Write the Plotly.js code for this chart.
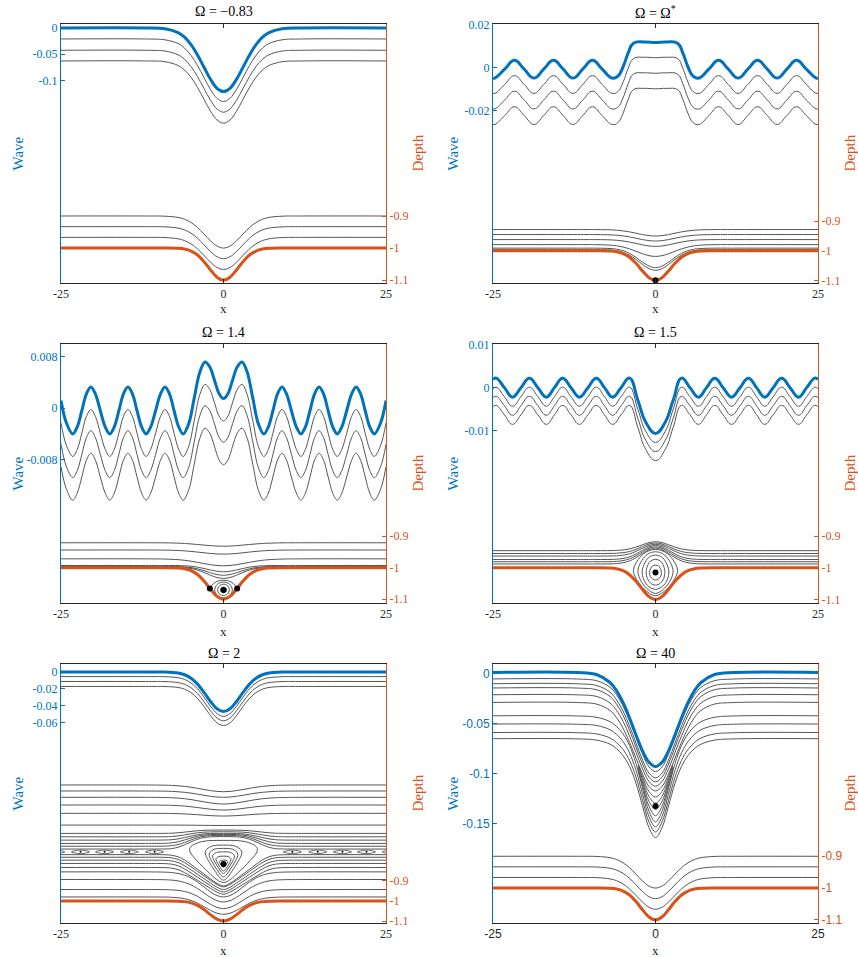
<!DOCTYPE html>
<html><head><meta charset="utf-8">
<script src="https://cdn.plot.ly/plotly-3.0.1.min.js"></script>
<style>html,body{margin:0;padding:0;background:#fff}</style>
</head><body><div id="chart" style="width:858px;height:957px"></div>
<script>
// ---------------- data ----------------
const TITLES = ['Ω = −0.83','Ω = Ω<sup>*</sup>','Ω = 1.4','Ω = 1.5','Ω = 2','Ω = 40'];
const X_TICKS = [-25,0,25];
const X_TICK_TEXT = ['-25','0','25'];
const DEPTH_TICKS = [-0.9,-1,-1.1];
const DEPTH_TICK_TEXT = ['-0.9','-1','-1.1'];

// shared x samples for the smooth single-dip profiles
const XS = [-25,-12,-9,-7,-6,-5,-4,-3,-2,-1,0,1,2,3,4,5,6,7,9,12,25];
// bottom (bed) profile, same in every panel
const BED = [-1,-1,-1,-1.0009,-1.0032,-1.0093,-1.0218,-1.0424,-1.0683,-1.0909,-1.1,-1.0909,-1.0683,-1.0424,-1.0218,-1.0093,-1.0032,-1.0009,-1,-1,-1];
const BED_LINE1 = [-0.9,-0.9,-0.9006,-0.9044,-0.91,-0.9203,-0.936,-0.9563,-0.9775,-0.9938,-1,-0.9938,-0.9775,-0.9563,-0.936,-0.9203,-0.91,-0.9044,-0.9006,-0.9,-0.9];
const BED_LINE2 = [-0.9333,-0.9333,-0.9339,-0.9377,-0.9433,-0.9536,-0.9693,-0.9896,-1.0108,-1.0271,-1.0333,-1.0271,-1.0108,-0.9896,-0.9693,-0.9536,-0.9433,-0.9377,-0.9339,-0.9333,-0.9333];
const BED_LINE3 = [-0.9667,-0.9667,-0.9673,-0.9711,-0.9767,-0.987,-1.0027,-1.023,-1.0442,-1.0605,-1.0667,-1.0605,-1.0442,-1.023,-1.0027,-0.987,-0.9767,-0.9711,-0.9673,-0.9667,-0.9667];

// Panel 1: Omega = -0.83
const P1_WAVE = [0,0,-0.0016,-0.0088,-0.0176,-0.0319,-0.0516,-0.075,-0.0981,-0.1153,-0.1216,-0.1153,-0.0981,-0.075,-0.0516,-0.0319,-0.0176,-0.0088,-0.0016,0,0];
const P1_S1 = [-0.021,-0.021,-0.0226,-0.0296,-0.0383,-0.0523,-0.0717,-0.0948,-0.1175,-0.1344,-0.1406,-0.1344,-0.1175,-0.0948,-0.0717,-0.0523,-0.0383,-0.0296,-0.0226,-0.021,-0.021];
const P1_S2 = [-0.0426,-0.0426,-0.0441,-0.0511,-0.0598,-0.0736,-0.0928,-0.1157,-0.1381,-0.1548,-0.161,-0.1548,-0.1381,-0.1157,-0.0928,-0.0736,-0.0598,-0.0511,-0.0441,-0.0426,-0.0426];
const P1_S3 = [-0.063,-0.063,-0.0645,-0.0716,-0.0803,-0.0942,-0.1135,-0.1364,-0.159,-0.1758,-0.182,-0.1758,-0.159,-0.1364,-0.1135,-0.0942,-0.0803,-0.0716,-0.0645,-0.063,-0.063];

// Panel 2: Omega = Omega*
const P2_X = [-25,-24.7,-23.2,-21.7,-20.2,-18.7,-17.2,-15.7,-14.2,-12.7,-11.2,-9.7,-8.2,-6.7,-5.8,-5,-4.2,-3.4,-1.7,0,1.7,3.4,4.2,5,5.8,6.7,8.2,9.7,11.2,12.7,14.2,15.7,17.2,18.7,20.2,21.7,23.2,24.7,25];
const P2_WAVE = [-0.0047,-0.0048,-0.0007,0.0034,-0.0007,-0.0048,-0.0007,0.0034,-0.0007,-0.0048,-0.0007,0.0034,-0.0007,-0.0048,-0.004,0.0003,0.0068,0.0113,0.0119,0.0117,0.0119,0.0113,0.0068,0.0003,-0.004,-0.0048,-0.0007,0.0034,-0.0007,-0.0048,-0.0007,0.0034,-0.0007,-0.0048,-0.0007,0.0034,-0.0007,-0.0048,-0.0047];
const P2_S1 = [-0.0118,-0.0119,-0.0078,-0.0037,-0.0078,-0.0119,-0.0078,-0.0037,-0.0078,-0.0119,-0.0078,-0.0037,-0.0078,-0.0119,-0.0111,-0.0068,-0.0003,0.0042,0.0048,0.0046,0.0048,0.0042,-0.0003,-0.0068,-0.0111,-0.0119,-0.0078,-0.0037,-0.0078,-0.0119,-0.0078,-0.0037,-0.0078,-0.0119,-0.0078,-0.0037,-0.0078,-0.0119,-0.0118];
const P2_S2 = [-0.019,-0.0191,-0.015,-0.0109,-0.015,-0.0191,-0.015,-0.0109,-0.015,-0.0191,-0.015,-0.0109,-0.015,-0.0191,-0.0183,-0.014,-0.0075,-0.003,-0.0024,-0.0026,-0.0024,-0.003,-0.0075,-0.014,-0.0183,-0.0191,-0.015,-0.0109,-0.015,-0.0191,-0.015,-0.0109,-0.015,-0.0191,-0.015,-0.0109,-0.015,-0.0191,-0.019];
const P2_S3 = [-0.0262,-0.0263,-0.0222,-0.0181,-0.0222,-0.0263,-0.0222,-0.0181,-0.0222,-0.0263,-0.0222,-0.0181,-0.0222,-0.0263,-0.0255,-0.0212,-0.0147,-0.0102,-0.0096,-0.0098,-0.0096,-0.0102,-0.0147,-0.0212,-0.0255,-0.0263,-0.0222,-0.0181,-0.0222,-0.0263,-0.0222,-0.0181,-0.0222,-0.0263,-0.0222,-0.0181,-0.0222,-0.0263,-0.0262];
const P2_D1 = [-0.928,-0.928,-0.9281,-0.929,-0.9302,-0.9325,-0.9359,-0.9404,-0.9451,-0.9486,-0.95,-0.9486,-0.9451,-0.9404,-0.9359,-0.9325,-0.9302,-0.929,-0.9281,-0.928,-0.928];
const P2_D2 = [-0.945,-0.945,-0.9451,-0.946,-0.9472,-0.9495,-0.9529,-0.9574,-0.9621,-0.9656,-0.967,-0.9656,-0.9621,-0.9574,-0.9529,-0.9495,-0.9472,-0.946,-0.9451,-0.945,-0.945];
const P2_D3 = [-0.962,-0.962,-0.9621,-0.963,-0.9643,-0.9667,-0.9703,-0.975,-0.9798,-0.9836,-0.985,-0.9836,-0.9798,-0.975,-0.9703,-0.9667,-0.9643,-0.963,-0.9621,-0.962,-0.962];
const P2_D4 = [-0.979,-0.979,-0.9792,-0.9808,-0.983,-0.9871,-0.9934,-1.0015,-1.01,-1.0165,-1.019,-1.0165,-1.01,-1.0015,-0.9934,-0.9871,-0.983,-0.9808,-0.9792,-0.979,-0.979];
const P2_D5 = [-0.991,-0.991,-0.9911,-0.9922,-0.9944,-0.9994,-1.0086,-1.0224,-1.0385,-1.0518,-1.057,-1.0518,-1.0385,-1.0224,-1.0086,-0.9994,-0.9944,-0.9922,-0.9911,-0.991,-0.991];
const P2_D6 = [-0.996,-0.996,-0.9961,-0.9972,-0.9996,-1.0049,-1.0147,-1.0293,-1.0463,-1.0605,-1.066,-1.0605,-1.0463,-1.0293,-1.0147,-1.0049,-0.9996,-0.9972,-0.9961,-0.996,-0.996];
const P2_DOT_X = [0];
const P2_DOT_Y = [-1.1];

// Panel 3: Omega = 1.4
const P3_X = [-25,-24.2,-23.2,-22.5,-21.8,-21.1,-20.4,-19.7,-18.95,-18.2,-17.5,-16.8,-16.1,-15.4,-14.7,-14,-13.3,-12.6,-11.9,-11.2,-10.45,-9.7,-9,-8.3,-7.6,-6.9,-6.2,-5.35,-4.5,-3.65,-2.85,-2.1,-1.4,-0.7,0,
  0.7,1.4,2.1,2.85,3.65,4.5,5.35,6.2,6.9,7.6,8.3,9,9.7,10.45,11.2,11.9,12.6,13.3,14,14.7,15.4,16.1,16.8,17.5,18.2,18.95,19.7,20.4,21.1,21.8,22.5,23.2,24.2,25];
const P3_WAVE = [0.0012,-0.0022,-0.004,-0.0029,-0.0004,0.0022,0.0033,0.0022,-0.0004,-0.0029,-0.004,-0.0029,-0.0004,0.0022,0.0033,0.0022,-0.0004,-0.0029,-0.004,-0.0029,-0.0004,0.0022,0.0033,0.0022,-0.0004,-0.0029,-0.004,-0.0024,0.0016,0.0056,0.0072,0.0064,0.0044,0.0023,0.0015,
  0.0023,0.0044,0.0064,0.0072,0.0056,0.0016,-0.0024,-0.004,-0.0029,-0.0004,0.0022,0.0033,0.0022,-0.0004,-0.0029,-0.004,-0.0029,-0.0004,0.0022,0.0033,0.0022,-0.0004,-0.0029,-0.004,-0.0029,-0.0004,0.0022,0.0033,0.0022,-0.0004,-0.0029,-0.004,-0.0022,0.0012];
const P3_S1 = [-0.0023,-0.0057,-0.0075,-0.0064,-0.0039,-0.0013,-0.0002,-0.0013,-0.0039,-0.0064,-0.0075,-0.0064,-0.0039,-0.0013,-0.0002,-0.0013,-0.0039,-0.0064,-0.0075,-0.0064,-0.0039,-0.0013,-0.0002,-0.0013,-0.0039,-0.0064,-0.0075,-0.0059,-0.0019,0.0021,0.0037,0.0029,0.0009,-0.0012,-0.002,
  -0.0012,0.0009,0.0029,0.0037,0.0021,-0.0019,-0.0059,-0.0075,-0.0064,-0.0039,-0.0013,-0.0002,-0.0013,-0.0039,-0.0064,-0.0075,-0.0064,-0.0039,-0.0013,-0.0002,-0.0013,-0.0039,-0.0064,-0.0075,-0.0064,-0.0039,-0.0013,-0.0002,-0.0013,-0.0039,-0.0064,-0.0075,-0.0057,-0.0023];
const P3_S2 = [-0.0056,-0.009,-0.0108,-0.0097,-0.0072,-0.0046,-0.0035,-0.0046,-0.0072,-0.0097,-0.0108,-0.0097,-0.0072,-0.0046,-0.0035,-0.0046,-0.0072,-0.0097,-0.0108,-0.0097,-0.0072,-0.0046,-0.0035,-0.0046,-0.0072,-0.0097,-0.0108,-0.0092,-0.0052,-0.0012,0.0004,-0.0004,-0.0024,-0.0045,-0.0053,
  -0.0045,-0.0024,-0.0004,0.0004,-0.0012,-0.0052,-0.0092,-0.0108,-0.0097,-0.0072,-0.0046,-0.0035,-0.0046,-0.0072,-0.0097,-0.0108,-0.0097,-0.0072,-0.0046,-0.0035,-0.0046,-0.0072,-0.0097,-0.0108,-0.0097,-0.0072,-0.0046,-0.0035,-0.0046,-0.0072,-0.0097,-0.0108,-0.009,-0.0056];
const P3_S3 = [-0.0091,-0.0125,-0.0143,-0.0132,-0.0107,-0.0081,-0.007,-0.0081,-0.0107,-0.0132,-0.0143,-0.0132,-0.0107,-0.0081,-0.007,-0.0081,-0.0107,-0.0132,-0.0143,-0.0132,-0.0107,-0.0081,-0.007,-0.0081,-0.0107,-0.0132,-0.0143,-0.0127,-0.0087,-0.0047,-0.0031,-0.0039,-0.0059,-0.008,-0.0088,
  -0.008,-0.0059,-0.0039,-0.0031,-0.0047,-0.0087,-0.0127,-0.0143,-0.0132,-0.0107,-0.0081,-0.007,-0.0081,-0.0107,-0.0132,-0.0143,-0.0132,-0.0107,-0.0081,-0.007,-0.0081,-0.0107,-0.0132,-0.0143,-0.0132,-0.0107,-0.0081,-0.007,-0.0081,-0.0107,-0.0132,-0.0143,-0.0125,-0.0091];
const P3_D1 = [-0.921,-0.921,-0.9213,-0.9223,-0.9233,-0.9247,-0.9265,-0.9284,-0.9302,-0.9315,-0.932,-0.9315,-0.9302,-0.9284,-0.9265,-0.9247,-0.9233,-0.9223,-0.9213,-0.921,-0.921];
const P3_D2 = [-0.944,-0.944,-0.9444,-0.9455,-0.9467,-0.9484,-0.9505,-0.9528,-0.9549,-0.9565,-0.957,-0.9565,-0.9549,-0.9528,-0.9505,-0.9484,-0.9467,-0.9455,-0.9444,-0.944,-0.944];
const P3_D3 = [-0.972,-0.972,-0.9727,-0.9746,-0.9766,-0.9794,-0.983,-0.9869,-0.9905,-0.9931,-0.994,-0.9931,-0.9905,-0.9869,-0.983,-0.9794,-0.9766,-0.9746,-0.9727,-0.972,-0.972];
const P3_D4 = [-0.993,-0.993,-0.993,-0.9934,-0.994,-0.9955,-0.9983,-1.0025,-1.0074,-1.0114,-1.013,-1.0114,-1.0074,-1.0025,-0.9983,-0.9955,-0.994,-0.9934,-0.993,-0.993,-0.993];
const P3_D5 = [-0.996,-0.996,-0.996,-0.9965,-0.9974,-0.9996,-1.0035,-1.0093,-1.0161,-1.0218,-1.024,-1.0218,-1.0161,-1.0093,-1.0035,-0.9996,-0.9974,-0.9965,-0.996,-0.996,-0.996];
const P3_D6 = [-0.998,-0.998,-0.998,-0.9986,-0.9998,-1.0026,-1.0076,-1.0151,-1.0239,-1.0312,-1.034,-1.0312,-1.0239,-1.0151,-1.0076,-1.0026,-0.9998,-0.9986,-0.998,-0.998,-0.998];
const P3_SEP_X = [-2.1,-1.5,-0.8,0,0.8,1.5,2.1];
const P3_SEP_Y = [-1.0657,-1.05,-1.042,-1.04,-1.042,-1.05,-1.0657];
const P3_EDDY_X = [0.45,0.318,0,-0.318,-0.45,-0.318,0,0.318,0.45,null,0.9,0.636,0,-0.636,-0.9,-0.636,0,0.636,0.9,null,1.35,0.955,0,-0.955,-1.35,-0.955,0,0.955,1.35];
const P3_EDDY_Y = [-1.0705,-1.0641,-1.0615,-1.0641,-1.0705,-1.0769,-1.0795,-1.0769,-1.0705,null,-1.0705,-1.0578,-1.0525,-1.0578,-1.0705,-1.0832,-1.0885,-1.0832,-1.0705,null,-1.0705,-1.0528,-1.0455,-1.0528,-1.0705,-1.0882,-1.0955,-1.0882,-1.0705];
const P3_DOT_X = [-2.1,0,2.1];
const P3_DOT_Y = [-1.0657,-1.0705,-1.0657];

// Panel 4: Omega = 1.5
const P4_X = [-25,-24.5,-23.25,-22,-20.7,-19.4,-18.1,-16.8,-15.55,-14.3,-13,-11.7,-10.4,-9.1,-7.85,-6.6,-5.3,-4,-2.7,-1.5,0,1.5,2.7,4,5.3,6.6,7.85,9.1,10.4,11.7,13,14.3,15.55,16.8,18.1,19.4,20.7,22,23.25,24.5,25];
const P4_WAVE = [0.0019,0.0022,0,-0.0022,0,0.0022,0,-0.0022,0,0.0022,0,-0.0022,0,0.0022,0,-0.0022,0,0.0022,-0.003,-0.008,-0.0106,-0.008,-0.003,0.0022,0,-0.0022,0,0.0022,0,-0.0022,0,0.0022,0,-0.0022,0,0.0022,0,-0.0022,0,0.0022,0.0019];
const P4_S1 = [-0.0002,0.0001,-0.0021,-0.0043,-0.0021,0.0001,-0.0021,-0.0043,-0.0021,0.0001,-0.0021,-0.0043,-0.0021,0.0001,-0.0021,-0.0043,-0.0021,0.0001,-0.0051,-0.0101,-0.0127,-0.0101,-0.0051,0.0001,-0.0021,-0.0043,-0.0021,0.0001,-0.0021,-0.0043,-0.0021,0.0001,-0.0021,-0.0043,-0.0021,0.0001,-0.0021,-0.0043,-0.0021,0.0001,-0.0002];
const P4_S2 = [-0.0023,-0.002,-0.0042,-0.0064,-0.0042,-0.002,-0.0042,-0.0064,-0.0042,-0.002,-0.0042,-0.0064,-0.0042,-0.002,-0.0042,-0.0064,-0.0042,-0.002,-0.0072,-0.0122,-0.0148,-0.0122,-0.0072,-0.002,-0.0042,-0.0064,-0.0042,-0.002,-0.0042,-0.0064,-0.0042,-0.002,-0.0042,-0.0064,-0.0042,-0.002,-0.0042,-0.0064,-0.0042,-0.002,-0.0023];
const P4_S3 = [-0.0044,-0.0041,-0.0063,-0.0085,-0.0063,-0.0041,-0.0063,-0.0085,-0.0063,-0.0041,-0.0063,-0.0085,-0.0063,-0.0041,-0.0063,-0.0085,-0.0063,-0.0041,-0.0093,-0.0143,-0.0169,-0.0143,-0.0093,-0.0041,-0.0063,-0.0085,-0.0063,-0.0041,-0.0063,-0.0085,-0.0063,-0.0041,-0.0063,-0.0085,-0.0063,-0.0041,-0.0063,-0.0085,-0.0063,-0.0041,-0.0044];
const P4_D1 = [-0.946,-0.946,-0.946,-0.9458,-0.9453,-0.9439,-0.9406,-0.9349,-0.9274,-0.9207,-0.918,-0.9207,-0.9274,-0.9349,-0.9406,-0.9439,-0.9453,-0.9458,-0.946,-0.946,-0.946];
const P4_D2 = [-0.955,-0.955,-0.955,-0.9548,-0.9542,-0.9525,-0.9486,-0.9419,-0.9331,-0.9252,-0.922,-0.9252,-0.9331,-0.9419,-0.9486,-0.9525,-0.9542,-0.9548,-0.955,-0.955,-0.955];
const P4_D3 = [-0.963,-0.963,-0.963,-0.9628,-0.9621,-0.9602,-0.9559,-0.9483,-0.9385,-0.9296,-0.926,-0.9296,-0.9385,-0.9483,-0.9559,-0.9602,-0.9621,-0.9628,-0.963,-0.963,-0.963];
const P4_D4 = [-0.974,-0.974,-0.974,-0.9737,-0.9729,-0.9706,-0.9655,-0.9565,-0.9448,-0.9343,-0.93,-0.9343,-0.9448,-0.9565,-0.9655,-0.9706,-0.9729,-0.9737,-0.974,-0.974,-0.974];
const P4_D5 = [-0.981,-0.981,-0.981,-0.9807,-0.9798,-0.9774,-0.9719,-0.9623,-0.9498,-0.9386,-0.934,-0.9386,-0.9498,-0.9623,-0.9719,-0.9774,-0.9798,-0.9807,-0.981,-0.981,-0.981];
const P4_D6 = [-0.988,-0.988,-0.988,-0.9877,-0.9868,-0.9842,-0.9784,-0.9682,-0.9549,-0.9429,-0.938,-0.9429,-0.9549,-0.9682,-0.9784,-0.9842,-0.9868,-0.9877,-0.988,-0.988,-0.988];
const P4_EDDY_X = [0,1.5,2.7,3.4,3.0,1.8,0,-1.8,-3.0,-3.4,-2.7,-1.5,0,null,0,1.2,2.1,2.7,2.4,1.4,0,-1.4,-2.4,-2.7,-2.1,-1.2,0,null,0,0.95,1.6,2.05,1.8,1.05,0,-1.05,-1.8,-2.05,-1.6,-0.95,0,null,0,0.7,1.15,1.44,1.25,0.72,0,-0.72,-1.25,-1.44,-1.15,-0.7,0,null,0,0.45,0.75,0.9,0.8,0.45,0,-0.45,-0.8,-0.9,-0.75,-0.45,0];
const P4_EDDY_Y = [-0.942,-0.951,-0.975,-1.008,-1.033,-1.066,-1.088,-1.066,-1.033,-1.008,-0.975,-0.951,-0.942,null,-0.9495,-0.957,-0.977,-1.008,-1.035,-1.064,-1.081,-1.064,-1.035,-1.008,-0.977,-0.957,-0.9495,null,-0.96,-0.966,-0.983,-1.01,-1.038,-1.059,-1.068,-1.059,-1.038,-1.01,-0.983,-0.966,-0.96,null,-0.9735,-0.978,-0.99,-1.012,-1.034,-1.049,-1.0546,-1.049,-1.034,-1.012,-0.99,-0.978,-0.9735,null,-0.9915,-0.994,-1.002,-1.014,-1.027,-1.035,-1.0388,-1.035,-1.027,-1.014,-1.002,-0.994,-0.9915];
const P4_DOT_X = [0];
const P4_DOT_Y = [-1.0145];

// Panel 5: Omega = 2
const P5_WAVE = [0,0,-0.0001,-0.0013,-0.0033,-0.0074,-0.0144,-0.0242,-0.035,-0.0437,-0.047,-0.0437,-0.035,-0.0242,-0.0144,-0.0074,-0.0033,-0.0013,-0.0001,0,0];
const P5_S1 = [-0.0055,-0.0055,-0.0056,-0.0068,-0.0088,-0.013,-0.02,-0.0298,-0.0407,-0.0494,-0.0528,-0.0494,-0.0407,-0.0298,-0.02,-0.013,-0.0088,-0.0068,-0.0056,-0.0055,-0.0055];
const P5_S2 = [-0.0113,-0.0113,-0.0114,-0.0126,-0.0146,-0.0187,-0.0256,-0.0353,-0.046,-0.0547,-0.058,-0.0547,-0.046,-0.0353,-0.0256,-0.0187,-0.0146,-0.0126,-0.0114,-0.0113,-0.0113];
const P5_S3 = [-0.0172,-0.0172,-0.0173,-0.0184,-0.0204,-0.0245,-0.0314,-0.0411,-0.0517,-0.0603,-0.0636,-0.0603,-0.0517,-0.0411,-0.0314,-0.0245,-0.0204,-0.0184,-0.0173,-0.0172,-0.0172];
const P5_XM = [-25,-12,-9,-8,-7,-6,-5,-4,-3,-2,-1,0,1,2,3,4,5,6,7,8,9,12,25];
const P5_M1 = [-0.4215,-0.4216,-0.4225,-0.4236,-0.4255,-0.4285,-0.4328,-0.4383,-0.4442,-0.4496,-0.4536,-0.455,-0.4536,-0.4496,-0.4442,-0.4383,-0.4328,-0.4285,-0.4255,-0.4236,-0.4225,-0.4216,-0.4215];
const P5_M2 = [-0.4515,-0.4516,-0.4524,-0.4535,-0.4552,-0.4581,-0.4621,-0.4673,-0.4728,-0.478,-0.4817,-0.483,-0.4817,-0.478,-0.4728,-0.4673,-0.4621,-0.4581,-0.4552,-0.4535,-0.4524,-0.4516,-0.4515];
const P5_M3 = [-0.483,-0.4831,-0.484,-0.4851,-0.487,-0.49,-0.4943,-0.4998,-0.5057,-0.5111,-0.5151,-0.5165,-0.5151,-0.5111,-0.5057,-0.4998,-0.4943,-0.49,-0.487,-0.4851,-0.484,-0.4831,-0.483];
const P5_M4 = [-0.5215,-0.5215,-0.5222,-0.5231,-0.5245,-0.5268,-0.53,-0.534,-0.5384,-0.5425,-0.5455,-0.5465,-0.5455,-0.5425,-0.5384,-0.534,-0.53,-0.5268,-0.5245,-0.5231,-0.5222,-0.5215,-0.5215];
const P5_M5 = [-0.563,-0.563,-0.5634,-0.5638,-0.5646,-0.5658,-0.5676,-0.5698,-0.5721,-0.5743,-0.5759,-0.5765,-0.5759,-0.5743,-0.5721,-0.5698,-0.5676,-0.5658,-0.5646,-0.5638,-0.5634,-0.563,-0.563];
const P5_M6 = [-0.6215,-0.6215,-0.6215,-0.6216,-0.6217,-0.6219,-0.6222,-0.6225,-0.6229,-0.6232,-0.6234,-0.6235,-0.6234,-0.6232,-0.6229,-0.6225,-0.6222,-0.6219,-0.6217,-0.6216,-0.6215,-0.6215,-0.6215];
const P5_UP1 = [-0.663,-0.663,-0.6628,-0.662,-0.66,-0.6567,-0.6531,-0.6498,-0.6477,-0.6468,-0.6465,-0.6465,-0.6465,-0.6468,-0.6477,-0.6498,-0.6531,-0.6567,-0.66,-0.662,-0.6628,-0.663,-0.663];
const P5_UP2 = [-0.68,-0.68,-0.6796,-0.6785,-0.6755,-0.6705,-0.665,-0.66,-0.6567,-0.6555,-0.655,-0.655,-0.655,-0.6555,-0.6567,-0.66,-0.665,-0.6705,-0.6755,-0.6785,-0.6796,-0.68,-0.68];
const P5_UP3 = [-0.6965,-0.6965,-0.696,-0.6945,-0.6905,-0.6838,-0.6764,-0.6697,-0.6653,-0.6637,-0.663,-0.663,-0.663,-0.6637,-0.6653,-0.6697,-0.6764,-0.6838,-0.6905,-0.6945,-0.696,-0.6965,-0.6965];
const P5_UP4 = [-0.713,-0.713,-0.7123,-0.7103,-0.7049,-0.6959,-0.686,-0.677,-0.6711,-0.6689,-0.668,-0.668,-0.668,-0.6689,-0.6711,-0.677,-0.686,-0.6959,-0.7049,-0.7103,-0.7123,-0.713,-0.713];
const P5_UP5 = [-0.727,-0.727,-0.7263,-0.7243,-0.7187,-0.7083,-0.6958,-0.6844,-0.677,-0.6741,-0.673,-0.673,-0.673,-0.6741,-0.677,-0.6844,-0.6958,-0.7083,-0.7187,-0.7243,-0.7263,-0.727,-0.727];
const P5_SEP_UP = [-0.741,-0.741,-0.7405,-0.739,-0.732,-0.7199,-0.7054,-0.6922,-0.6836,-0.6803,-0.679,-0.679,-0.679,-0.6803,-0.6836,-0.6922,-0.7054,-0.7199,-0.732,-0.739,-0.7405,-0.741,-0.741];
const P5_SEP_LOW = [-0.769,-0.769,-0.7695,-0.772,-0.7795,-0.7954,-0.8178,-0.8418,-0.8658,-0.8898,-0.9122,-0.925,-0.9122,-0.8898,-0.8658,-0.8418,-0.8178,-0.7954,-0.7795,-0.772,-0.7695,-0.769,-0.769];
const P5_LOW1 = [-0.782,-0.782,-0.7826,-0.785,-0.7925,-0.8085,-0.8295,-0.852,-0.8745,-0.897,-0.918,-0.93,-0.918,-0.897,-0.8745,-0.852,-0.8295,-0.8085,-0.7925,-0.785,-0.7826,-0.782,-0.782];
const P5_LOW2 = [-0.7965,-0.7965,-0.7972,-0.8002,-0.8082,-0.8243,-0.8448,-0.8668,-0.8888,-0.9108,-0.9313,-0.943,-0.9313,-0.9108,-0.8888,-0.8668,-0.8448,-0.8243,-0.8082,-0.8002,-0.7972,-0.7965,-0.7965];
const P5_LOW3 = [-0.813,-0.813,-0.8137,-0.8166,-0.8244,-0.84,-0.8599,-0.8812,-0.9025,-0.9238,-0.9436,-0.955,-0.9436,-0.9238,-0.9025,-0.8812,-0.8599,-0.84,-0.8244,-0.8166,-0.8137,-0.813,-0.813];
const P5_LOW4 = [-0.833,-0.833,-0.8337,-0.8363,-0.8437,-0.8584,-0.8771,-0.8971,-0.9171,-0.9371,-0.9558,-0.9665,-0.9558,-0.9371,-0.9171,-0.8971,-0.8771,-0.8584,-0.8437,-0.8363,-0.8337,-0.833,-0.833];
const P5_DEEP1 = [-0.855,-0.855,-0.8563,-0.8583,-0.8628,-0.8713,-0.8853,-0.9055,-0.93,-0.9546,-0.9731,-0.98,-0.9731,-0.9546,-0.93,-0.9055,-0.8853,-0.8713,-0.8628,-0.8583,-0.8563,-0.855,-0.855];
const P5_DEEP2 = [-0.893,-0.893,-0.8941,-0.896,-0.8999,-0.9076,-0.9201,-0.9382,-0.9602,-0.9823,-0.9988,-1.005,-0.9988,-0.9823,-0.9602,-0.9382,-0.9201,-0.9076,-0.8999,-0.896,-0.8941,-0.893,-0.893];
const P5_DEEP3 = [-0.943,-0.943,-0.9435,-0.9446,-0.9472,-0.9525,-0.9623,-0.9772,-0.9965,-1.0166,-1.0321,-1.038,-1.0321,-1.0166,-0.9965,-0.9772,-0.9623,-0.9525,-0.9472,-0.9446,-0.9435,-0.943,-0.943];
const P5_DEEP4 = [-0.98,-0.98,-0.9805,-0.9815,-0.9838,-0.9887,-0.9976,-1.0111,-1.0287,-1.047,-1.0611,-1.0665,-1.0611,-1.047,-1.0287,-1.0111,-0.9976,-0.9887,-0.9838,-0.9815,-0.9805,-0.98,-0.98];
const P5_EDDY_X = [0,3.38,5.04,5.2,4.16,2.34,1.04,0,-1.04,-2.34,-4.16,-5.2,-5.04,-3.38,0,null,
  0,1.82,2.72,2.8,2.24,1.26,0.56,0,-0.56,-1.26,-2.24,-2.8,-2.72,-1.82,0,null,
  0,1.43,2.13,2.2,1.76,0.99,0.44,0,-0.44,-0.99,-1.76,-2.2,-2.13,-1.43,0,null,
  0,1.09,1.62,1.67,1.34,0.75,0.33,0,-0.33,-0.75,-1.34,-1.67,-1.62,-1.09,0,null,
  0,0.75,1.12,1.15,0.92,0.52,0.23,0,-0.23,-0.52,-0.92,-1.15,-1.12,-0.75,0,null,
  0,0.42,0.62,0.64,0.51,0.29,0.13,0,-0.13,-0.29,-0.51,-0.64,-0.62,-0.42,0];
const P5_EDDY_Y = [-0.698,-0.7043,-0.7295,-0.7505,-0.7967,-0.8555,-0.8933,-0.908,-0.8933,-0.8555,-0.7967,-0.7505,-0.7295,-0.7043,-0.698,null,
  -0.7215,-0.7268,-0.7478,-0.7653,-0.8038,-0.8528,-0.8843,-0.8965,-0.8843,-0.8528,-0.8038,-0.7653,-0.7478,-0.7268,-0.7215,null,
  -0.738,-0.7423,-0.7593,-0.7735,-0.8047,-0.8445,-0.8701,-0.88,-0.8701,-0.8445,-0.8047,-0.7735,-0.7593,-0.7423,-0.738,null,
  -0.755,-0.7582,-0.7712,-0.782,-0.8058,-0.836,-0.8554,-0.863,-0.8554,-0.836,-0.8058,-0.782,-0.7712,-0.7582,-0.755,null,
  -0.7765,-0.7787,-0.7875,-0.7949,-0.811,-0.8316,-0.8449,-0.85,-0.8449,-0.8316,-0.811,-0.7949,-0.7875,-0.7787,-0.7765,null,
  -0.7965,-0.7976,-0.802,-0.8056,-0.8137,-0.8239,-0.8305,-0.833,-0.8305,-0.8239,-0.8137,-0.8056,-0.802,-0.7976,-0.7965];
const P5_EYE_X = [-27.2,-26.5,-25.8,-25.1,-24.4,-25.1,-25.8,-26.5,-27.2,null,
  -23.4,-22.7,-22,-21.3,-20.6,-21.3,-22,-22.7,-23.4,null,
  -19.7,-19,-18.3,-17.6,-16.9,-17.6,-18.3,-19,-19.7,null,
  -15.9,-15.2,-14.5,-13.8,-13.1,-13.8,-14.5,-15.2,-15.9,null,
  -12,-11.3,-10.6,-9.9,-9.2,-9.9,-10.6,-11.3,-12,null,
  9.2,9.9,10.6,11.3,12,11.3,10.6,9.9,9.2,null,
  13.1,13.8,14.5,15.2,15.9,15.2,14.5,13.8,13.1,null,
  16.9,17.6,18.3,19,19.7,19,18.3,17.6,16.9,null,
  20.6,21.3,22,22.7,23.4,22.7,22,21.3,20.6,null,
  24.4,25.1,25.8,26.5,27.2,26.5,25.8,25.1,24.4];
const P5_EYE_Y = [-0.755,-0.7485,-0.746,-0.7485,-0.755,-0.7615,-0.764,-0.7615,-0.755,null,
  -0.755,-0.7485,-0.746,-0.7485,-0.755,-0.7615,-0.764,-0.7615,-0.755,null,
  -0.755,-0.7485,-0.746,-0.7485,-0.755,-0.7615,-0.764,-0.7615,-0.755,null,
  -0.755,-0.7485,-0.746,-0.7485,-0.755,-0.7615,-0.764,-0.7615,-0.755,null,
  -0.755,-0.7485,-0.746,-0.7485,-0.755,-0.7615,-0.764,-0.7615,-0.755,null,
  -0.755,-0.7485,-0.746,-0.7485,-0.755,-0.7615,-0.764,-0.7615,-0.755,null,
  -0.755,-0.7485,-0.746,-0.7485,-0.755,-0.7615,-0.764,-0.7615,-0.755,null,
  -0.755,-0.7485,-0.746,-0.7485,-0.755,-0.7615,-0.764,-0.7615,-0.755,null,
  -0.755,-0.7485,-0.746,-0.7485,-0.755,-0.7615,-0.764,-0.7615,-0.755,null,
  -0.755,-0.7485,-0.746,-0.7485,-0.755,-0.7615,-0.764,-0.7615,-0.755];
const P5_EYE_CX = [-22,-18.3,-14.5,-10.6,10.6,14.5,18.3,22];
const P5_EYE_CY = [-0.755,-0.755,-0.755,-0.755,-0.755,-0.755,-0.755,-0.755];
const P5_DOT_X = [0];
const P5_DOT_Y = [-0.815];

// Panel 6: Omega = 40
const P6_WAVE = [0.0015,0.0014,-0.0008,-0.0086,-0.0167,-0.0287,-0.044,-0.0612,-0.0772,-0.0887,-0.093,-0.0887,-0.0772,-0.0612,-0.044,-0.0287,-0.0167,-0.0086,-0.0008,0.0014,0.0015];
const P6_S1 = [-0.005,-0.0051,-0.0069,-0.0134,-0.0208,-0.032,-0.0469,-0.0636,-0.0803,-0.0934,-0.098,-0.0934,-0.0803,-0.0636,-0.0469,-0.032,-0.0208,-0.0134,-0.0069,-0.0051,-0.005];
const P6_S2 = [-0.0098,-0.0099,-0.0117,-0.0183,-0.0259,-0.0372,-0.0523,-0.0693,-0.0863,-0.0996,-0.1043,-0.0996,-0.0863,-0.0693,-0.0523,-0.0372,-0.0259,-0.0183,-0.0117,-0.0099,-0.0098];
const P6_S3 = [-0.0141,-0.0142,-0.016,-0.0226,-0.0301,-0.0414,-0.0565,-0.0734,-0.0904,-0.1036,-0.1083,-0.1036,-0.0904,-0.0734,-0.0565,-0.0414,-0.0301,-0.0226,-0.016,-0.0142,-0.0141];
const P6_S4 = [-0.0209,-0.021,-0.0227,-0.0292,-0.0365,-0.0475,-0.0622,-0.0787,-0.0953,-0.1081,-0.1127,-0.1081,-0.0953,-0.0787,-0.0622,-0.0475,-0.0365,-0.0292,-0.0227,-0.021,-0.0209];
const P6_S5 = [-0.0286,-0.0287,-0.0304,-0.0366,-0.0437,-0.0544,-0.0686,-0.0845,-0.1005,-0.113,-0.1174,-0.113,-0.1005,-0.0845,-0.0686,-0.0544,-0.0437,-0.0366,-0.0304,-0.0287,-0.0286];
const P6_S6 = [-0.042,-0.0422,-0.0436,-0.0479,-0.0527,-0.0601,-0.0718,-0.0899,-0.1144,-0.1379,-0.1485,-0.1379,-0.1144,-0.0899,-0.0718,-0.0601,-0.0527,-0.0479,-0.0436,-0.0422,-0.042];
const P6_S7 = [-0.0503,-0.0505,-0.0518,-0.056,-0.0606,-0.0678,-0.0792,-0.0967,-0.1205,-0.1432,-0.1535,-0.1432,-0.1205,-0.0967,-0.0792,-0.0678,-0.0606,-0.056,-0.0518,-0.0505,-0.0503];
const P6_S8 = [-0.0588,-0.059,-0.0603,-0.0643,-0.0688,-0.0758,-0.0867,-0.1037,-0.1267,-0.1486,-0.1586,-0.1486,-0.1267,-0.1037,-0.0867,-0.0758,-0.0688,-0.0643,-0.0603,-0.059,-0.0588];
const P6_S9 = [-0.065,-0.0652,-0.0665,-0.0705,-0.0749,-0.0819,-0.0928,-0.1097,-0.1325,-0.1544,-0.1643,-0.1544,-0.1325,-0.1097,-0.0928,-0.0819,-0.0749,-0.0705,-0.0665,-0.0652,-0.065];
const P6_LOOP_X = [-2.6,-2,-1,0,1,2,2.6,2.6,2,1,0,-1,-2,-2.6,-2.6,null,-2.6,-2,-1,0,1,2,2.6,2.6,2,1,0,-1,-2,-2.6,-2.6];
const P6_LOOP_Y = [-0.0918,-0.1033,-0.118,-0.1236,-0.118,-0.1033,-0.0918,-0.0976,-0.1116,-0.1329,-0.1423,-0.1329,-0.1116,-0.0976,-0.0918,null,-0.0937,-0.1061,-0.123,-0.1298,-0.123,-0.1061,-0.0937,-0.0956,-0.1088,-0.1279,-0.1361,-0.1279,-0.1088,-0.0956,-0.0937];
const P6_DOT_X = [0];
const P6_DOT_Y = [-0.1325];

// ---------------- styling / layout ----------------
const BLUE = '#0072BD', ORANGE = '#D95319', GRAY = '#555555', AX = '#262626';
const SERIF = 'Liberation Serif, DejaVu Serif, serif';
const SANS = 'Liberation Sans, Arial, sans-serif';
const COLX = [[0.0711,0.4499],[0.5746,0.9534]];
const ROWY = [[0.7043,0.9749],[0.3699,0.6405],[0.0355,0.3062]];

const PANELS = [
  {col:0,row:0,wr:[-0.4874,0.0076],dr:[-1.109,-0.301],wt:[0,-0.05,-0.1],wtt:['0','-0.05','-0.1'],tf:SERIF},
  {col:1,row:0,wr:[-0.0997,0.0202],dr:[-1.109,-0.232],wt:[0.02,0,-0.02],wtt:['0.02','0','-0.02'],tf:SERIF},
  {col:0,row:1,wr:[-0.0303,0.00998],dr:[-1.112,-0.291],wt:[0.008,0,-0.008],wtt:['0.008','0','-0.008'],tf:SERIF},
  {col:1,row:1,wr:[-0.0499,0.0101],dr:[-1.111,-0.295],wt:[0.01,0,-0.01],wtt:['0.01','0','-0.01'],tf:SERIF},
  {col:0,row:2,wr:[-0.298,0.0095],dr:[-1.11,0.182],wt:[0,-0.02,-0.04,-0.06],wtt:['0','-0.02','-0.04','-0.06'],tf:SERIF},
  {col:1,row:2,wr:[-0.25,0.01],dr:[-1.11,-0.295],wt:[0,-0.05,-0.1,-0.15],wtt:['0','-0.05','-0.1','-0.15'],tf:SANS}
];

const layout = {width:858,height:957,margin:{l:0,r:0,t:0,b:0},showlegend:false,
  paper_bgcolor:'#ffffff',plot_bgcolor:'#ffffff',annotations:[]};

function ref(k){ return { x: k===1?'x':'x'+k, yl: 'y'+(2*k-1===1?'':(2*k-1)), yr: 'y'+(2*k) }; }

PANELS.forEach((s,i)=>{
  const k=i+1, r=ref(k);
  const xName = k===1?'xaxis':'xaxis'+k;
  const ylName = (2*k-1)===1?'yaxis':'yaxis'+(2*k-1);
  const yrName = 'yaxis'+(2*k);
  layout[xName] = {domain:COLX[s.col],range:[-25,25],anchor:r.yl,tickmode:'array',tickvals:X_TICKS,ticktext:X_TICK_TEXT,
    ticks:'inside',ticklen:4,tickcolor:AX,showline:true,linecolor:AX,linewidth:1,mirror:'ticks',
    showgrid:false,zeroline:false,tickfont:{family:s.tf,size:12,color:AX}};
  layout[ylName] = {domain:ROWY[s.row],range:s.wr,anchor:r.x,tickmode:'array',tickvals:s.wt,ticktext:s.wtt,
    ticks:'inside',ticklen:4,tickcolor:BLUE,showline:true,linecolor:BLUE,linewidth:1,
    showgrid:false,zeroline:false,tickfont:{family:s.tf,size:12,color:BLUE}};
  layout[yrName] = {overlaying:r.yl,side:'right',range:s.dr,anchor:r.x,tickmode:'array',tickvals:DEPTH_TICKS,ticktext:DEPTH_TICK_TEXT,
    ticks:'inside',ticklen:4,tickcolor:ORANGE,showline:true,linecolor:ORANGE,linewidth:1,
    showgrid:false,zeroline:false,tickfont:{family:s.tf,size:12,color:ORANGE}};
  const cx = (COLX[s.col][0]+COLX[s.col][1])/2;
  const cy = (ROWY[s.row][0]+ROWY[s.row][1])/2;
  const titleY = [1-12/957, 1-333/957, 1-653/957][s.row];
  const xlabY = [1-308/957, 1-631/957, 1-950/957][s.row];
  const waveX = [18/858, 453/858][s.col];
  const depthX = [418/858, 850/858][s.col];
  layout.annotations.push(
    {text:TITLES[i],x:cx,y:titleY,xref:'paper',yref:'paper',showarrow:false,xanchor:'center',yanchor:'middle',font:{family:SERIF,size:14,color:'#000'}},
    {text:'x',x:cx,y:xlabY,xref:'paper',yref:'paper',showarrow:false,xanchor:'center',yanchor:'middle',font:{family:SERIF,size:13,color:AX}},
    {text:'Wave',x:waveX,y:cy,xref:'paper',yref:'paper',showarrow:false,textangle:-90,xanchor:'center',yanchor:'middle',font:{family:SERIF,size:15,color:BLUE}},
    {text:'Depth',x:depthX,y:cy,xref:'paper',yref:'paper',showarrow:false,textangle:-90,xanchor:'center',yanchor:'middle',font:{family:SERIF,size:15,color:ORANGE}}
  );
});

const traces = [];
function ln(k, side, x, y, color, width, sm){
  const r = ref(k);
  traces.push({x:x,y:y,xaxis:r.x,yaxis:side==='w'?r.yl:r.yr,mode:'lines',
    line:{color:color,width:width,shape:'spline',smoothing:sm||1},hoverinfo:'skip',connectgaps:false});
}
function dots(k, side, x, y, size){
  const r = ref(k);
  traces.push({x:x,y:y,xaxis:r.x,yaxis:side==='w'?r.yl:r.yr,mode:'markers',
    marker:{color:'#000',size:size},hoverinfo:'skip'});
}
const G = 1, T = 3, SM = 1.3;

// Panel 1
[P1_S1,P1_S2,P1_S3].forEach(a=>ln(1,'w',XS,a,GRAY,G));
[BED_LINE1,BED_LINE2,BED_LINE3].forEach(a=>ln(1,'d',XS,a,GRAY,G));
ln(1,'w',XS,P1_WAVE,BLUE,T); ln(1,'d',XS,BED,ORANGE,T);

// Panel 2
[P2_S1,P2_S2,P2_S3].forEach(a=>ln(2,'w',P2_X,a,GRAY,G,SM));
[P2_D1,P2_D2,P2_D3,P2_D4,P2_D5,P2_D6].forEach(a=>ln(2,'d',XS,a,GRAY,G));
ln(2,'w',P2_X,P2_WAVE,BLUE,T,SM); ln(2,'d',XS,BED,ORANGE,T);
dots(2,'d',P2_DOT_X,P2_DOT_Y,6);

// Panel 3
[P3_S1,P3_S2,P3_S3].forEach(a=>ln(3,'w',P3_X,a,GRAY,G));
[P3_D1,P3_D2,P3_D3,P3_D4,P3_D5,P3_D6].forEach(a=>ln(3,'d',XS,a,GRAY,G));
ln(3,'d',P3_SEP_X,P3_SEP_Y,GRAY,G);
ln(3,'d',P3_EDDY_X,P3_EDDY_Y,GRAY,G);
ln(3,'w',P3_X,P3_WAVE,BLUE,T); ln(3,'d',XS,BED,ORANGE,T);
dots(3,'d',P3_DOT_X,P3_DOT_Y,6);

// Panel 4
[P4_S1,P4_S2,P4_S3].forEach(a=>ln(4,'w',P4_X,a,GRAY,G,SM));
[P4_D1,P4_D2,P4_D3,P4_D4,P4_D5,P4_D6].forEach(a=>ln(4,'d',XS,a,GRAY,G));
ln(4,'d',P4_EDDY_X,P4_EDDY_Y,GRAY,G);
ln(4,'w',P4_X,P4_WAVE,BLUE,T,SM); ln(4,'d',XS,BED,ORANGE,T);
dots(4,'d',P4_DOT_X,P4_DOT_Y,6);

// Panel 5
[P5_S1,P5_S2,P5_S3].forEach(a=>ln(5,'w',XS,a,GRAY,G));
[P5_M1,P5_M2,P5_M3,P5_M4,P5_M5,P5_M6,P5_UP1,P5_UP2,P5_UP3,P5_UP4,P5_UP5,P5_SEP_UP,P5_SEP_LOW,
 P5_LOW1,P5_LOW2,P5_LOW3,P5_LOW4,P5_DEEP1,P5_DEEP2,P5_DEEP3,P5_DEEP4].forEach(a=>ln(5,'d',P5_XM,a,GRAY,G));
ln(5,'d',P5_EDDY_X,P5_EDDY_Y,GRAY,G);
ln(5,'d',P5_EYE_X,P5_EYE_Y,GRAY,0.9);
ln(5,'w',XS,P5_WAVE,BLUE,T); ln(5,'d',XS,BED,ORANGE,T);
dots(5,'d',P5_EYE_CX,P5_EYE_CY,2);
dots(5,'d',P5_DOT_X,P5_DOT_Y,6);

// Panel 6
[P6_S1,P6_S2,P6_S3,P6_S4,P6_S5,P6_S6,P6_S7,P6_S8,P6_S9].forEach(a=>ln(6,'w',XS,a,GRAY,G));
ln(6,'w',P6_LOOP_X,P6_LOOP_Y,GRAY,G);
[BED_LINE1,BED_LINE2,BED_LINE3].forEach(a=>ln(6,'d',XS,a,GRAY,G));
ln(6,'w',XS,P6_WAVE,BLUE,T); ln(6,'d',XS,BED,ORANGE,T);
dots(6,'w',P6_DOT_X,P6_DOT_Y,6);

Plotly.newPlot('chart', traces, layout, {staticPlot:true, displayModeBar:false});
</script></body></html>
